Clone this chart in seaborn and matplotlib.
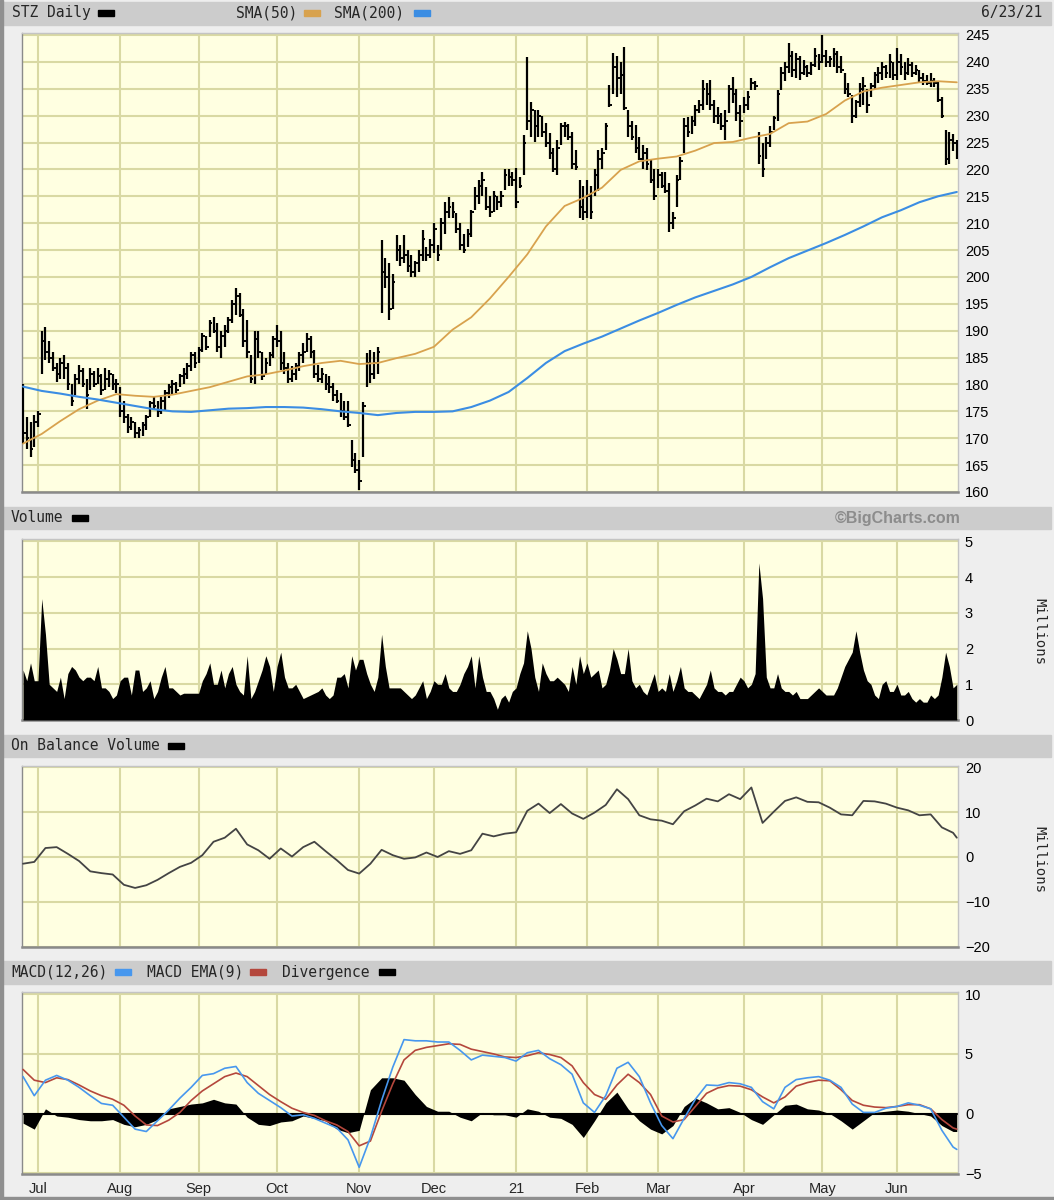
import numpy as np
import pandas as pd
import matplotlib
matplotlib.use("Agg")
import matplotlib.pyplot as plt
from matplotlib.patches import Rectangle
import seaborn as sns

# trading days shown: 25 Jun 2020 .. 23 Jun 2021
holidays = pd.to_datetime(["2020-07-03", "2020-09-07", "2020-11-26", "2020-12-25",
                           "2021-01-01", "2021-01-18", "2021-02-15", "2021-04-02",
                           "2021-05-31"])
dates = pd.bdate_range("2020-06-25", "2021-06-23")
dates = dates[~dates.isin(holidays)]

# daily bars, one line per month
high = [180, 174, 173, 174.3,
        175, 190, 190.7, 188, 186, 184, 185, 185.5, 184, 180, 182, 183.6, 183, 181, 183, 182.5, 183, 182, 183, 182.7, 182, 181,
        179.5, 177, 174.5, 174, 173, 172, 173, 174.3, 177, 177.7, 177, 177.7, 179, 180, 180.8, 180.5, 182, 183, 184, 186, 186,
        187, 189.6, 189, 192, 192.5, 191.5, 190, 191, 192.5, 195.7, 198, 197, 194, 192, 185.5, 190, 190, 186, 185, 186, 189,
        191, 190, 186, 184, 183.5, 184, 186, 187.7, 189.6, 189, 186.4, 183.6, 183, 182, 181.5, 180.3, 179, 178.4, 177, 177, 169.7, 167.2,
        166, 176.7, 185.8, 186.4, 186, 187, 206.9, 203.5, 202.6, 200.6, 207.8, 206, 207.8, 205, 204, 203, 205, 208.7, 205.6, 207,
        210, 206, 211, 214, 214.9, 214, 211.9, 210, 208, 209, 212.4, 216.7, 218, 219.5, 216.7, 215, 216, 215, 216, 220, 220, 219.5,
        220.3, 218.6, 226.4, 240.9, 232.5, 231, 231, 230, 228.6, 226.8, 224, 225.5, 228.6, 228.8, 228.5, 227, 223.6, 218, 217,
        218, 217, 220, 223.6, 224, 228.6, 235.7, 241.6, 241, 240, 242.8, 231, 229, 228.3, 226, 224.5, 224, 221.8, 220,
        220, 219.5, 219.5, 217.5, 212, 219, 222.3, 229.6, 229.7, 230, 232, 233, 236.6, 236, 236.6, 233, 231.6, 230.5, 231, 235.7, 237.2, 235, 232,
        233.5, 234.5, 237, 236.5, 227, 225, 226, 228, 230, 234.8, 239, 240, 243.5, 242, 241.6, 241, 240.3, 239.5, 240, 242.6, 241.5,
        245, 242.2, 241, 242.6, 242, 241, 238, 236, 233.8, 233, 236, 237.2, 235, 236, 238.1, 239, 240, 239.5, 241.4, 240,
        242.6, 241.4, 240, 240.7, 240, 239.5, 238.5, 238, 237.5, 237.9, 237, 236.3, 233.5, 227.3, 227, 226.5, 225.5]
low = [169, 168, 166.5, 168.4,
       172, 182, 184.5, 184, 182.5, 180.5, 181, 181, 179, 176, 178, 180, 179.5, 175.5, 179, 179.5, 180, 178, 179, 179.5, 179, 178.5,
       174, 172.8, 171, 171.5, 170, 170, 170.5, 171.5, 174, 175.2, 174, 174.5, 175, 177.5, 178, 178.5, 179.5, 180, 181, 182.5, 183,
       184, 186, 186.5, 188.8, 189.5, 186, 185, 187, 189.6, 191.5, 193, 192.5, 187, 185, 180.3, 180, 185, 180.8, 182, 183.5, 185,
       187, 182.7, 182, 180.3, 180.5, 180.8, 182.5, 184, 186, 185, 181.2, 180.5, 180.3, 179, 178.5, 177, 176.5, 174, 173.4, 172, 164.6, 163.5,
       160.4, 166.5, 179.5, 180.3, 181, 182, 193.3, 198, 192, 194, 203, 202, 202.6, 201, 200, 200, 201, 203, 203, 203.5,
       204.4, 203, 205, 208, 211, 211, 208.2, 205, 204.4, 205.5, 207.4, 212.4, 213.5, 215, 212.4, 211.2, 212, 212.5, 213, 216.2, 217, 217,
       212.8, 216.5, 219, 227.3, 226, 225.1, 226, 226, 224.2, 222, 219.5, 219, 224.6, 226, 225.5, 220, 219.9, 211, 210.6,
       211, 210.8, 215, 216, 220, 223.6, 231.6, 234, 233.5, 234, 231, 226, 225.5, 223, 221.8, 220, 219.9, 217.5, 214.3,
       216.5, 216.5, 215.6, 208.4, 209, 213, 218, 223, 226, 226.5, 228, 230.5, 231, 232, 231, 228.7, 228.5, 227.3, 225.5, 230.5, 232.3, 229, 226,
       230.5, 231, 234.8, 234.8, 221, 218.6, 222, 224.2, 227.3, 229, 234.8, 236.5, 238, 237.2, 237, 236.6, 237.5, 237.2, 237.5, 239, 238.5,
       239.8, 239, 239, 239, 238, 237.9, 234, 233.5, 228.6, 229.5, 231.6, 232, 230.5, 233.5, 235, 236, 236.6, 237, 237, 236.6,
       236.6, 237.5, 236.6, 237.5, 237.2, 237.5, 236, 235.7, 235.7, 235.3, 235.3, 232.5, 229.6, 220.8, 221, 223.5, 222]
close = [171, 170, 168, 173,
         174.5, 188, 186, 185, 183, 182, 184, 183, 180, 177, 181, 182.5, 180, 178, 182, 180, 181.5, 179, 181, 182, 180, 180,
         175, 174, 172, 173, 171, 171.5, 172.5, 174, 176.5, 176, 175, 177, 178.5, 179.5, 180, 179, 181.5, 182, 183.5, 185.5, 184,
         186.5, 189, 187, 191.5, 190, 187, 189, 190, 192, 195, 196.5, 193, 188, 186, 181, 188.5, 186, 181.5, 184, 185.5, 188.5,
         188, 184, 183, 181, 182, 183.5, 185.5, 186, 188.5, 186, 182, 181, 182, 180, 179.5, 178, 177, 175, 174, 172.5, 166, 164,
         162, 176, 184, 182, 184, 186, 201, 200, 194, 199, 205, 203.5, 204, 202, 201, 202.5, 204, 207, 204, 206,
         209, 204, 210, 212, 213, 212, 209, 206, 205, 208, 212, 215, 217, 218, 213, 212, 215, 214, 215, 219, 218.5, 218,
         214, 217, 225, 229, 231, 228, 230, 227, 225, 223, 220, 224, 228, 228, 226, 221, 220.5, 213, 212,
         215, 212, 219, 222, 223, 228, 232, 239, 237, 237.5, 231.5, 228, 226, 224, 222, 223, 221, 218, 215,
         219, 217, 216, 210, 211, 218, 221.5, 228, 227, 229, 231, 232, 235, 234, 232, 230, 230, 228, 229, 235, 234, 230.5, 229,
         232, 233.5, 236, 235.5, 222.5, 220, 225, 227, 229.5, 234, 238, 239, 241, 238.5, 240.5, 238, 239, 238, 239.5, 241, 240,
         241, 240, 240.5, 241.5, 239, 238.5, 235, 234, 230, 232.5, 235, 235.5, 232, 235.5, 237.5, 238, 239, 238, 240, 237.5,
         240, 239, 238, 239.5, 238, 238.5, 237, 236.5, 236, 236.5, 236, 233, 230, 222, 225.5, 225, 223]
volume = [1.4, 1.1, 1.6, 1.1,
          1.1, 3.4, 2.4, 1.0, 0.9, 0.8, 1.2, 0.6, 1.3, 1.5, 1.4, 1.2, 1.1, 1.2, 1.2, 1.1, 1.5, 0.9, 0.9, 0.8, 0.6, 0.7,
          1.1, 1.2, 1.2, 0.7, 1.4, 1.4, 0.8, 0.9, 1.1, 0.6, 0.8, 1.2, 1.5, 0.9, 0.9, 0.8, 0.7, 0.75, 0.75, 0.75, 0.75,
          0.75, 1.1, 1.3, 1.6, 1.0, 1.0, 1.4, 0.9, 1.3, 1.5, 1.0, 0.8, 0.7, 1.8, 0.6, 0.8, 1.1, 1.4, 1.8, 1.5, 0.8,
          1.5, 1.9, 1.2, 0.9, 0.9, 1.0, 0.8, 0.6, 0.65, 0.7, 0.75, 0.8, 0.9, 0.7, 0.6, 0.7, 1.2, 1.2, 1.3, 0.9, 1.8, 1.4,
          1.7, 1.7, 1.3, 1.0, 0.8, 1.2, 2.4, 1.5, 0.9, 0.9, 0.9, 0.9, 0.8, 0.7, 0.6, 0.7, 0.9, 1.1, 0.6, 0.8,
          1.1, 1.0, 1.0, 1.3, 0.9, 0.8, 0.8, 1.0, 1.3, 1.5, 1.8, 0.9, 1.8, 1.2, 0.8, 0.8, 0.6, 0.3, 0.6, 0.7, 0.5, 0.8,
          0.9, 1.3, 1.6, 2.5, 2.0, 1.2, 0.8, 1.6, 1.3, 1.1, 1.1, 1.2, 1.1, 1.0, 0.8, 1.5, 1.0, 1.8, 1.3,
          1.6, 1.2, 1.3, 1.4, 0.9, 1.0, 1.4, 2.0, 1.7, 1.3, 1.3, 2.0, 1.1, 0.9, 1.0, 0.8, 0.7, 1.0, 1.3,
          0.8, 0.9, 0.8, 1.3, 0.8, 1.1, 1.5, 0.9, 0.8, 0.8, 0.7, 0.6, 0.8, 1.0, 1.4, 0.9, 0.8, 0.8, 0.7, 0.8, 0.8, 1.0, 1.2,
          1.1, 0.9, 1.0, 1.3, 4.4, 3.4, 1.2, 0.9, 0.9, 1.3, 0.9, 0.8, 0.8, 0.7, 0.8, 0.6, 0.6, 0.6, 0.7, 0.8, 0.9,
          0.8, 0.7, 0.7, 0.7, 0.9, 1.2, 1.5, 1.7, 1.9, 2.5, 1.9, 1.4, 1.1, 1.0, 0.7, 0.6, 1.0, 1.1, 0.8, 0.8,
          1.0, 0.7, 0.7, 0.8, 0.6, 0.5, 0.6, 0.5, 0.5, 0.7, 0.6, 0.7, 1.2, 1.9, 1.5, 0.9, 1.0]

# moving averages, one value every 5 trading days
sma50 = [169.0, 170.8, 173.2, 175.4, 177.0, 178.2, 177.9, 177.7, 178.1, 178.8,
         179.5, 180.5, 181.5, 181.9, 182.6, 183.4, 184.0, 184.4, 183.8, 184.0,
         184.9, 185.7, 187.0, 190.2, 192.5, 196.0, 200.0, 204.2, 209.4, 213.2,
         214.7, 216.6, 219.9, 221.5, 222.0, 222.4, 223.5, 224.9, 225.1, 225.9,
         226.6, 228.6, 228.9, 230.3, 232.8, 234.5, 235.2, 235.7, 236.2, 236.4, 236.2]
sma200 = [179.6, 178.8, 178.3, 177.7, 177.2, 176.6, 176.0, 175.4, 175.0, 174.9,
          175.2, 175.5, 175.6, 175.8, 175.8, 175.7, 175.4, 175.0, 174.7, 174.3,
          174.7, 174.9, 174.9, 175.0, 175.8, 177.0, 178.6, 181.2, 184.0, 186.2,
          187.6, 188.9, 190.4, 191.9, 193.3, 194.8, 196.2, 197.4, 198.6, 200.0,
          201.8, 203.5, 204.9, 206.3, 207.8, 209.4, 211.1, 212.4, 213.9, 215.0, 215.8]

# indicators, one value every 3 trading days plus the last day
obv = [-1.5, -1.1, 2.0, 2.2, 0.7, -0.9, -3.2, -3.6, -3.9, -6.2,
       -6.9, -6.3, -5.1, -3.6, -2.2, -1.3, 0.4, 3.4, 4.3, 6.3,
       2.8, 1.5, -0.4, 1.9, 0.1, 2.2, 3.4, 1.3, -0.7, -2.9,
       -3.7, -1.5, 1.6, 0.4, -0.4, -0.1, 1.0, 0.0, 1.3, 0.7,
       1.5, 5.2, 4.6, 5.2, 5.5, 10.3, 11.9, 9.8, 11.8, 9.7,
       8.5, 9.9, 11.6, 15.1, 12.9, 9.3, 8.4, 8.1, 7.3, 10.2,
       11.5, 13.0, 12.4, 14.0, 12.9, 15.5, 7.6, 10.1, 12.5, 13.3,
       12.3, 12.2, 11.0, 9.5, 9.3, 12.5, 12.4, 11.9, 11.0, 10.4,
       9.3, 9.5, 6.6, 5.4, 4.3]
macd = [3.1, 1.5, 2.8, 3.2, 2.8, 2.2, 1.5, 0.85, 0.7, -0.3,
        -1.3, -1.5, -0.6, 0.3, 1.3, 2.2, 3.2, 3.35, 3.8, 3.95,
        2.6, 1.7, 1.1, 0.5, -0.2, -0.1, -0.4, -0.8, -1.2, -2.2,
        -4.5, -2.0, 1.1, 3.9, 6.2, 6.1, 6.1, 6.0, 6.0, 5.3,
        4.5, 4.9, 4.8, 4.7, 4.4, 5.1, 5.3, 4.6, 4.1, 3.3,
        0.9, 0.1, 1.5, 3.8, 4.3, 3.1, 0.9, -1.0, -2.1, -0.4,
        1.2, 2.4, 2.35, 2.6, 2.5, 2.2, 1.0, 0.4, 2.2, 2.85,
        3.0, 3.1, 2.8, 2.2, 0.8, 0.1, 0.1, 0.45, 0.6, 0.9,
        0.7, 0.4, -1.4, -2.8, -3.0]
macd_ema = [3.7, 2.8, 2.6, 3.0, 2.85, 2.4, 1.9, 1.5, 1.2, 0.7,
            -0.2, -0.95, -1.0, -0.55, 0.1, 1.1, 1.9, 2.5, 3.1, 3.4,
            3.1, 2.35, 1.6, 1.0, 0.45, 0.1, -0.15, -0.6, -0.95, -1.5,
            -2.7, -2.3, 0.2, 2.5, 4.5, 5.3, 5.55, 5.7, 5.85, 5.8,
            5.4, 5.2, 5.0, 4.75, 4.7, 4.85, 5.1, 4.95, 4.7, 4.0,
            2.6, 1.6, 1.2, 2.4, 3.3, 2.6, 1.6, -0.2, -0.7, -0.5,
            0.6, 1.7, 2.15, 2.35, 2.3, 2.0, 1.4, 0.9, 1.4, 2.3,
            2.6, 2.8, 2.75, 2.0, 1.1, 0.7, 0.55, 0.5, 0.6, 0.75,
            0.75, 0.4, -0.5, -1.2, -1.3]
divergence = [-0.8, -1.3, 0.4, -0.2, -0.3, -0.5, -0.6, -0.6, -0.5, -0.9,
              -1.1, -0.9, -0.5, 0.4, 0.6, 0.8, 0.9, 1.2, 0.9, 0.8,
              -0.3, -0.9, -1.0, -0.7, -0.6, -0.2, -0.4, -0.6, -1.3, -1.6,
              -1.4, 2.0, 3.0, 3.0, 2.8, 1.6, 0.6, 0.2, 0.2, -0.3,
              -0.6, 0.1, -0.1, -0.1, -0.3, 0.4, 0.2, -0.3, -0.4, -0.9,
              -2.0, -0.6, 0.9, 1.8, 0.4, -0.6, -1.3, -1.7, -1.0, 0.6,
              1.3, 0.9, 0.4, 0.5, 0.1, -0.5, -0.9, -0.1, 0.7, 0.8,
              0.4, 0.3, 0.0, -0.6, -1.3, -0.6, 0.1, 0.2, 0.3, 0.2,
              0.0, -0.2, -1.0, -1.5, -1.5]

n = len(dates)
days = np.arange(n)
sma_days = days[::5]
ind_days = np.r_[days[::3], n - 1]
month_start = [i for i in range(1, n) if dates[i].month != dates[i - 1].month]
month_lbl = ['21' if dates[i].month == 1 else dates[i].strftime('%b') for i in month_start]

sns.set_theme(style="white")
plt.rcParams['font.family'] = ['Liberation Sans', 'DejaVu Sans']

W, H = 1054, 1200
fig = plt.figure(figsize=(W / 100, H / 100), dpi=100, facecolor='#eeeeee')


def box(x0, y0, x1, y1):
    return [x0 / W, 1 - y1 / H, (x1 - x0) / W, (y1 - y0) / H]


def panel(rect, ylim, yticks):
    ax = fig.add_axes(box(*rect))
    ax.set_facecolor('#ffffe1')
    ax.set_xlim(-0.28, n - 0.68)
    ax.set_ylim(*ylim)
    ax.set_xticks(month_start)
    ax.set_yticks(yticks)
    ax.grid(True, color='#d9d9a3', lw=1.5)
    ax.set_axisbelow(True)
    ax.yaxis.tick_right()
    ax.tick_params(axis='y', length=0, pad=5, labelsize=10.5, colors='black')
    ax.tick_params(axis='x', length=0, labelbottom=False)
    for side, sp in ax.spines.items():
        sp.set_visible(True)
        sp.set_color('#8a8a8a' if side in ('bottom', 'left') else '#c4c4c4')
        sp.set_linewidth(1.8 if side == 'bottom' else 1.0)
    return ax


ax_p = panel((22, 33, 958, 492), (160, 245.37), list(range(160, 250, 5)))
ax_v = panel((22, 539, 958, 720), (0, 5.07), [0, 1, 2, 3, 4, 5])
ax_o = panel((22, 766, 958, 947), (-20.07, 20.29), [-20, -10, 0, 10, 20])
ax_m = panel((22, 992, 958, 1174), (-5.06, 10.19), [-5, 0, 5, 10])

# price bars + moving averages
ax_p.vlines(days, low, high, color='black', lw=1.6, zorder=3)
ax_p.hlines(close, days, days + 0.7, color='black', lw=1.4, zorder=3)
sns.lineplot(x=sma_days, y=sma50, ax=ax_p, color='#d8a24e', lw=1.3, zorder=4)
sns.lineplot(x=sma_days, y=sma200, ax=ax_p, color='#3b8de3', lw=1.5, zorder=4)

# volume
ax_v.fill_between(days, volume, 0, color='black', lw=0, zorder=3)

# on balance volume
sns.lineplot(x=ind_days, y=obv, ax=ax_o, color='#444444', lw=1.3, zorder=3)

# MACD
ax_m.fill_between(ind_days, divergence, 0, color='black', lw=0, zorder=2)
ax_m.axhline(0, color='black', lw=1.5, zorder=2)
sns.lineplot(x=ind_days, y=macd_ema, ax=ax_m, color='#b4473c', lw=1.2, zorder=3)
sns.lineplot(x=ind_days, y=macd, ax=ax_m, color='#4797ee', lw=1.2, zorder=4)
ax_m.set_xticks(month_start, month_lbl)
ax_m.tick_params(axis='x', labelbottom=True, pad=6, labelsize=10.5)

for ax in (ax_p, ax_v, ax_o, ax_m):
    ax.set_xlabel('')
    ax.set_ylabel('')

# header strips
mono = 'DejaVu Sans Mono'


def band(y0, y1):
    fig.add_artist(Rectangle((3 / W, 1 - y1 / H), 1048 / W, (y1 - y0) / H,
                             transform=fig.transFigure, color='#cccccc', zorder=0))


def label(x, y, s, **kw):
    fig.text(x / W, 1 - y / H, s, va='center', ha=kw.pop('ha', 'left'),
             family=kw.pop('family', mono), size=kw.pop('size', 10.5), **kw)


def swatch(x0, y, c):
    fig.add_artist(Rectangle((x0 / W, 1 - (y + 3) / H), 16 / W, 6 / H,
                             transform=fig.transFigure, color=c))


band(2, 25)
label(12, 13, 'STZ Daily')
swatch(98, 13, 'black')
label(236, 13, 'SMA(50)')
swatch(304, 13, '#d8a24e')
label(334, 13, 'SMA(200)')
swatch(414, 13, '#3b8de3')
label(1042, 13, '6/23/21', ha='right')

band(507, 529)
label(11, 518, 'Volume')
swatch(72, 518, 'black')
label(961, 518, '©BigCharts.com', ha='right', family='Liberation Sans',
      size=11.5, weight='bold', color='#8c8c8c')

band(735, 757)
label(11, 746, 'On Balance Volume')
swatch(168, 746, 'black')

band(961, 984)
label(11, 972, 'MACD(12,26)')
swatch(115, 972, '#4797ee')
label(147, 972, 'MACD EMA(9)')
swatch(250, 972, '#b4473c')
label(282, 972, 'Divergence')
swatch(379, 972, 'black')

for yc in (631, 859):
    fig.text(1039 / W, 1 - yc / H, 'Millions', rotation=270, ha='center',
             va='center', family=mono, size=10)

# outer frame edges
fig.add_artist(Rectangle((0, 0), 3 / W, 1, transform=fig.transFigure, color='#8f8f8f'))
fig.add_artist(Rectangle((0, 0), 1, 3 / H, transform=fig.transFigure, color='#8f8f8f'))

fig.savefig('out.png', dpi=100, facecolor=fig.get_facecolor())
